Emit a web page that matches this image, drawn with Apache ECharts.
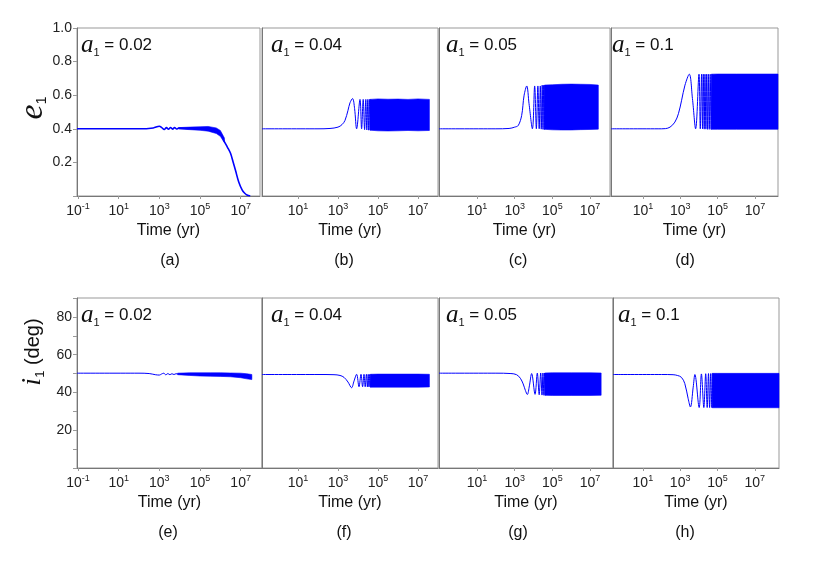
<!DOCTYPE html>
<html>
<head>
<meta charset="utf-8">
<script src="https://cdn.jsdelivr.net/npm/echarts@6/dist/echarts.min.js"></script>
<style>html,body{margin:0;padding:0;background:#fff}#main{width:830px;height:572px}</style>
</head>
<body>
<div id="main"></div>
<script>
// time values are log10(yr), read off the log axis of the picture
// (a) e1, a1 = 0.02
var aLogT = [-1.05, 2.0, 2.7, 3.0, 3.12, 3.24, 3.35, 3.45, 3.55, 3.65, 3.75, 3.85, 3.95, 4.5, 5.0, 5.4, 5.8, 6.0, 6.17, 6.35, 6.5, 6.62, 6.74, 6.9, 7.07, 7.2, 7.31, 7.47];
var aE = [0.40, 0.40, 0.405, 0.415, 0.407, 0.396, 0.407, 0.397, 0.408, 0.398, 0.407, 0.399, 0.404, 0.402, 0.402, 0.40, 0.388, 0.372, 0.33, 0.29, 0.254, 0.205, 0.155, 0.085, 0.036, 0.016, 0.006, 0.0];
var aBandT = [3.95, 4.5, 5.0, 5.4, 5.8, 6.0, 6.2];
var aBandHi = [0.407, 0.41, 0.412, 0.414, 0.405, 0.39, 0.345];
var aBandLo = [0.399, 0.395, 0.391, 0.386, 0.372, 0.355, 0.318];
// (b) e1, a1 = 0.04
var bLogT = [-0.8, 2.0, 2.6, 3.0, 3.2, 3.35, 3.5, 3.6, 3.73, 3.83, 3.93, 4.1, 4.18, 4.26, 4.33, 4.39, 4.44, 4.49, 4.53, 4.57, 4.61, 4.64];
var bE = [0.40, 0.40, 0.402, 0.41, 0.425, 0.45, 0.51, 0.555, 0.58, 0.52, 0.40, 0.575, 0.40, 0.575, 0.395, 0.575, 0.393, 0.575, 0.392, 0.575, 0.392, 0.575];
var bBandT = [4.6, 5.0, 5.5, 6.0, 6.5, 7.0, 7.57];
var bBandHi = [0.575, 0.578, 0.576, 0.577, 0.575, 0.578, 0.575];
var bBandLo = [0.392, 0.388, 0.387, 0.388, 0.39, 0.388, 0.39];
// (c) e1, a1 = 0.05
var cLogT = [-1.02, 2.0, 2.7, 3.0, 3.19, 3.37, 3.5, 3.64, 3.76, 3.94, 4.06, 4.15, 4.23, 4.3, 4.36, 4.41, 4.46, 4.5, 4.54, 4.57, 4.6];
var cE = [0.40, 0.40, 0.402, 0.41, 0.42, 0.48, 0.60, 0.655, 0.55, 0.40, 0.655, 0.40, 0.655, 0.40, 0.655, 0.398, 0.66, 0.397, 0.66, 0.396, 0.66];
var cBandT = [4.58, 5.0, 5.5, 6.0, 6.5, 7.0, 7.44];
var cBandHi = [0.66, 0.662, 0.665, 0.666, 0.665, 0.664, 0.66];
var cBandLo = [0.397, 0.394, 0.393, 0.393, 0.395, 0.396, 0.398];
// (d) e1, a1 = 0.1
var dLogT = [-0.71, 2.0, 2.2, 2.45, 2.71, 2.9, 3.07, 3.25, 3.48, 3.65, 3.82, 4.0, 4.07, 4.14, 4.19, 4.23, 4.28, 4.32, 4.37, 4.41, 4.46, 4.5, 4.55, 4.6, 4.65, 4.7];
var dE = [0.40, 0.40, 0.401, 0.41, 0.44, 0.49, 0.57, 0.66, 0.725, 0.58, 0.40, 0.725, 0.40, 0.725, 0.40, 0.725, 0.398, 0.725, 0.398, 0.725, 0.397, 0.725, 0.397, 0.725, 0.397, 0.725];
var dBandT = [4.66, 5.0, 6.0, 7.0, 8.23];
var dBandHi = [0.725, 0.726, 0.726, 0.726, 0.726];
var dBandLo = [0.397, 0.397, 0.397, 0.397, 0.397];
// (e) i1, a1 = 0.02
var eLogT = [-1.05, 2.0, 2.5, 2.8, 3.0, 3.1, 3.22, 3.32, 3.42, 3.52, 3.62, 3.72, 3.82, 3.9, 4.5, 5.0, 5.5, 6.0, 6.5, 7.0, 7.3, 7.55];
var eI = [50.2, 50.2, 50.0, 49.4, 49.2, 49.7, 50.2, 49.3, 50.0, 49.4, 49.9, 49.5, 49.9, 49.8, 49.7, 49.6, 49.5, 49.4, 49.3, 49.0, 48.5, 48.1];
var eBandT = [3.9, 4.5, 5.0, 5.5, 6.0, 6.5, 7.0, 7.3, 7.55];
var eBandHi = [50.2, 50.4, 50.4, 50.4, 50.4, 50.3, 50.2, 49.9, 49.5];
var eBandLo = [49.4, 49.0, 48.7, 48.6, 48.5, 48.3, 47.8, 47.2, 46.8];
// (f) i1, a1 = 0.04
var fLogT = [-0.8, 2.0, 2.8, 3.1, 3.3, 3.5, 3.68, 3.8, 3.93, 4.05, 4.15, 4.23, 4.3, 4.36, 4.42, 4.47, 4.51, 4.55, 4.59, 4.63, 4.66];
var fI = [49.5, 49.5, 49.4, 49.0, 48.0, 45.5, 42.5, 46.0, 49.6, 43.0, 49.6, 43.0, 49.6, 43.0, 49.6, 42.9, 49.6, 42.9, 49.6, 42.8, 49.6];
var fBandT = [4.62, 5.0, 6.0, 7.0, 7.57];
var fBandHi = [49.6, 49.7, 49.7, 49.7, 49.6];
var fBandLo = [42.8, 42.8, 42.8, 42.8, 42.9];
// (g) i1, a1 = 0.05
var gLogT = [-1.02, 2.0, 2.8, 3.1, 3.3, 3.45, 3.57, 3.67, 3.78, 3.9, 4.08, 4.2, 4.3, 4.38, 4.45, 4.5, 4.55, 4.59, 4.63];
var gI = [50.2, 50.2, 50.0, 49.4, 47.5, 44.5, 41.0, 38.9, 43.5, 50.0, 39.0, 50.2, 38.8, 50.3, 38.6, 50.3, 38.5, 50.3, 38.5];
var gBandT = [4.6, 5.0, 6.0, 7.0, 7.59];
var gBandHi = [50.3, 50.4, 50.4, 50.4, 50.3];
var gBandLo = [38.5, 38.4, 38.4, 38.4, 38.5];
// (h) i1, a1 = 0.1
var hLogT = [-0.6, 2.0, 2.62, 2.85, 3.07, 3.25, 3.43, 3.55, 3.7, 3.79, 4.02, 4.14, 4.27, 4.37, 4.45, 4.52, 4.58, 4.64, 4.7, 4.75];
var hI = [49.5, 49.5, 49.4, 49.0, 48.0, 44.7, 36.7, 32.3, 42.8, 49.5, 32.0, 49.8, 32.0, 49.9, 32.0, 50.0, 32.0, 50.0, 32.0, 50.0];
var hBandT = [4.72, 5.0, 6.0, 7.0, 8.3];
var hBandHi = [50.1, 50.1, 50.1, 50.1, 50.1];
var hBandLo = [31.9, 31.9, 31.9, 31.9, 31.9];

var a1Values = ['0.02', '0.04', '0.05', '0.1', '0.02', '0.04', '0.05', '0.1'];
var panelTags = ['(a)', '(b)', '(c)', '(d)', '(e)', '(f)', '(g)', '(h)'];
var tickTimesFirst = [0.1, 10, 1e3, 1e5, 1e7];
var tickTimes = [10, 1e3, 1e5, 1e7];

var lines = [[aLogT, aE], [bLogT, bE], [cLogT, cE], [dLogT, dE], [eLogT, eI], [fLogT, fI], [gLogT, gI], [hLogT, hI]];
var bands = [[aBandT, aBandHi, aBandLo], [bBandT, bBandHi, bBandLo], [cBandT, cBandHi, cBandLo], [dBandT, dBandHi, dBandLo],
             [eBandT, eBandHi, eBandLo], [fBandT, fBandHi, fBandLo], [gBandT, gBandHi, gBandLo], [hBandT, hBandHi, hBandLo]];

// panel boxes (px) and shown log10 time range
var boxes = [
    {left: 77,  top: 28,  width: 183, height: 168, lo: -1.05, hi: 7.95, tagX: 170, noteX: 81},
    {left: 262, top: 28,  width: 176, height: 168, lo: -0.8,  hi: 8.0,  tagX: 344, noteX: 271},
    {left: 439, top: 28,  width: 171, height: 168, lo: -1.02, hi: 8.06, tagX: 518, noteX: 446},
    {left: 611, top: 28,  width: 167, height: 168, lo: -0.71, hi: 8.23, tagX: 685, noteX: 612},
    {left: 77,  top: 298, width: 185, height: 170, lo: -1.05, hi: 8.05, tagX: 168, noteX: 81},
    {left: 262, top: 298, width: 176, height: 170, lo: -0.8,  hi: 8.0,  tagX: 344, noteX: 271},
    {left: 439, top: 298, width: 174, height: 170, lo: -1.02, hi: 8.22, tagX: 518, noteX: 446},
    {left: 613, top: 298, width: 166, height: 170, lo: -0.6,  hi: 8.3,  tagX: 685, noteX: 618}
];

var SANS = 'Liberation Sans, Arial, sans-serif';
var SERIF = 'Liberation Serif, Times New Roman, serif';
var BLUE = '#0000ff';

function pairs(T, V) {
    return T.map(function (t, k) { return [Math.pow(10, t), V[k]]; });
}

// dense oscillation: filled region between upper and lower envelope
function bandSeries(i, band) {
    var poly = pairs(band[0], band[1]).concat(pairs(band[0], band[2]).reverse());
    return {
        type: 'custom', xAxisIndex: i, yAxisIndex: i, silent: true, data: poly,
        renderItem: function (params, api) {
            if (params.dataIndex !== 0) return null;
            return {
                type: 'polygon',
                shape: {points: poly.map(function (p) { return api.coord(p); })},
                style: {fill: BLUE, stroke: BLUE, lineWidth: 0.6}
            };
        }
    };
}

var myChart = echarts.init(document.getElementById('main'));

var grid = [], xAxis = [], yAxis = [], series = [], graphic = [];

boxes.forEach(function (b, i) {
    var top = i < 4;
    var first = i % 4 === 0;
    var ticks = first ? tickTimesFirst : tickTimes;
    grid.push({left: b.left, top: b.top, width: b.width, height: b.height,
        show: true, borderColor: '#999', borderWidth: 1});
    xAxis.push({
        type: 'log', logBase: 10, gridIndex: i,
        min: Math.pow(10, b.lo), max: Math.pow(10, b.hi),
        axisLine: {show: true, lineStyle: {color: '#777'}},
        axisTick: {show: true, customValues: ticks, length: 3, lineStyle: {color: '#999'}},
        axisLabel: {
            customValues: ticks, margin: 6,
            formatter: function (v) {
                return '{b|10}{p|' + Math.round(Math.log10(v)) + '}';
            },
            rich: {
                b: {fontSize: 14, fontFamily: SANS, color: '#222', lineHeight: 18},
                p: {fontSize: 9, fontFamily: SANS, color: '#222', lineHeight: 10, verticalAlign: 'top'}
            }
        },
        splitLine: {show: false},
        name: 'Time (yr)', nameLocation: 'middle', nameGap: 27,
        nameTextStyle: {fontSize: 16, fontFamily: SANS, color: '#111'}
    });
    yAxis.push({
        type: 'value', gridIndex: i,
        min: 0, max: top ? 1 : 90, interval: top ? 0.2 : 10,
        axisLine: {show: true, lineStyle: {color: '#777'}},
        axisTick: {show: first, length: 4, lineStyle: {color: '#999'}},
        axisLabel: {
            show: first, margin: 5, fontSize: 14, fontFamily: SANS, color: '#222',
            formatter: top ? function (v) { return v === 0 ? '' : v.toFixed(1); }
                           : function (v) { return (v > 0 && v < 90 && v % 20 === 0) ? String(v) : ''; }
        },
        splitLine: {show: false}
    });

    series.push(bandSeries(i, bands[i]));
    series.push({
        type: 'line', xAxisIndex: i, yAxisIndex: i, silent: true,
        data: pairs(lines[i][0], lines[i][1]), symbol: 'none',
        smooth: 0.35,
        lineStyle: {width: i === 0 ? 1.6 : 1, color: BLUE}
    });

    // a1 = ... note inside the panel
    graphic.push({
        type: 'text', x: b.noteX, y: b.top + 4, z: 10,
        style: {
            text: '{a|a}{s|1}{t| = ' + a1Values[i] + '}',
            align: 'left', verticalAlign: 'top',
            rich: {
                a: {fontFamily: SERIF, fontStyle: 'italic', fontSize: 25, lineHeight: 26, fill: '#111'},
                s: {fontFamily: SANS, fontSize: 11, lineHeight: 10, verticalAlign: 'bottom', fill: '#111'},
                t: {fontFamily: SANS, fontSize: 17, lineHeight: 26, fill: '#111'}
            }
        }
    });
    // (a) ... (h)
    graphic.push({
        type: 'text', x: b.tagX, y: top ? 261 : 533,
        style: {text: panelTags[i], align: 'center', verticalAlign: 'middle',
            fontFamily: SANS, fontSize: 16, fill: '#111'}
    });
});

// y titles
graphic.push({
    type: 'text', x: 33, y: 108, rotation: Math.PI / 2,
    style: {
        text: '{e|e}{s|1}', align: 'center', verticalAlign: 'middle',
        rich: {
            e: {fontFamily: SERIF, fontStyle: 'italic', fontSize: 34, lineHeight: 32, fill: '#111'},
            s: {fontFamily: SANS, fontSize: 14, lineHeight: 14, verticalAlign: 'bottom', fill: '#111'}
        }
    }
});
graphic.push({
    type: 'text', x: 33, y: 352, rotation: Math.PI / 2,
    style: {
        text: '{i|i}{s|1}{t| (deg)}', align: 'center', verticalAlign: 'middle',
        rich: {
            i: {fontFamily: SERIF, fontStyle: 'italic', fontSize: 28, lineHeight: 28, fill: '#111'},
            s: {fontFamily: SANS, fontSize: 13, lineHeight: 12, verticalAlign: 'bottom', fill: '#111'},
            t: {fontFamily: SANS, fontSize: 20, lineHeight: 28, fill: '#111'}
        }
    }
});

var option = {
    animation: false,
    backgroundColor: '#fff',
    grid: grid,
    xAxis: xAxis,
    yAxis: yAxis,
    series: series,
    graphic: graphic
};
myChart.setOption(option);
</script>
</body>
</html>
